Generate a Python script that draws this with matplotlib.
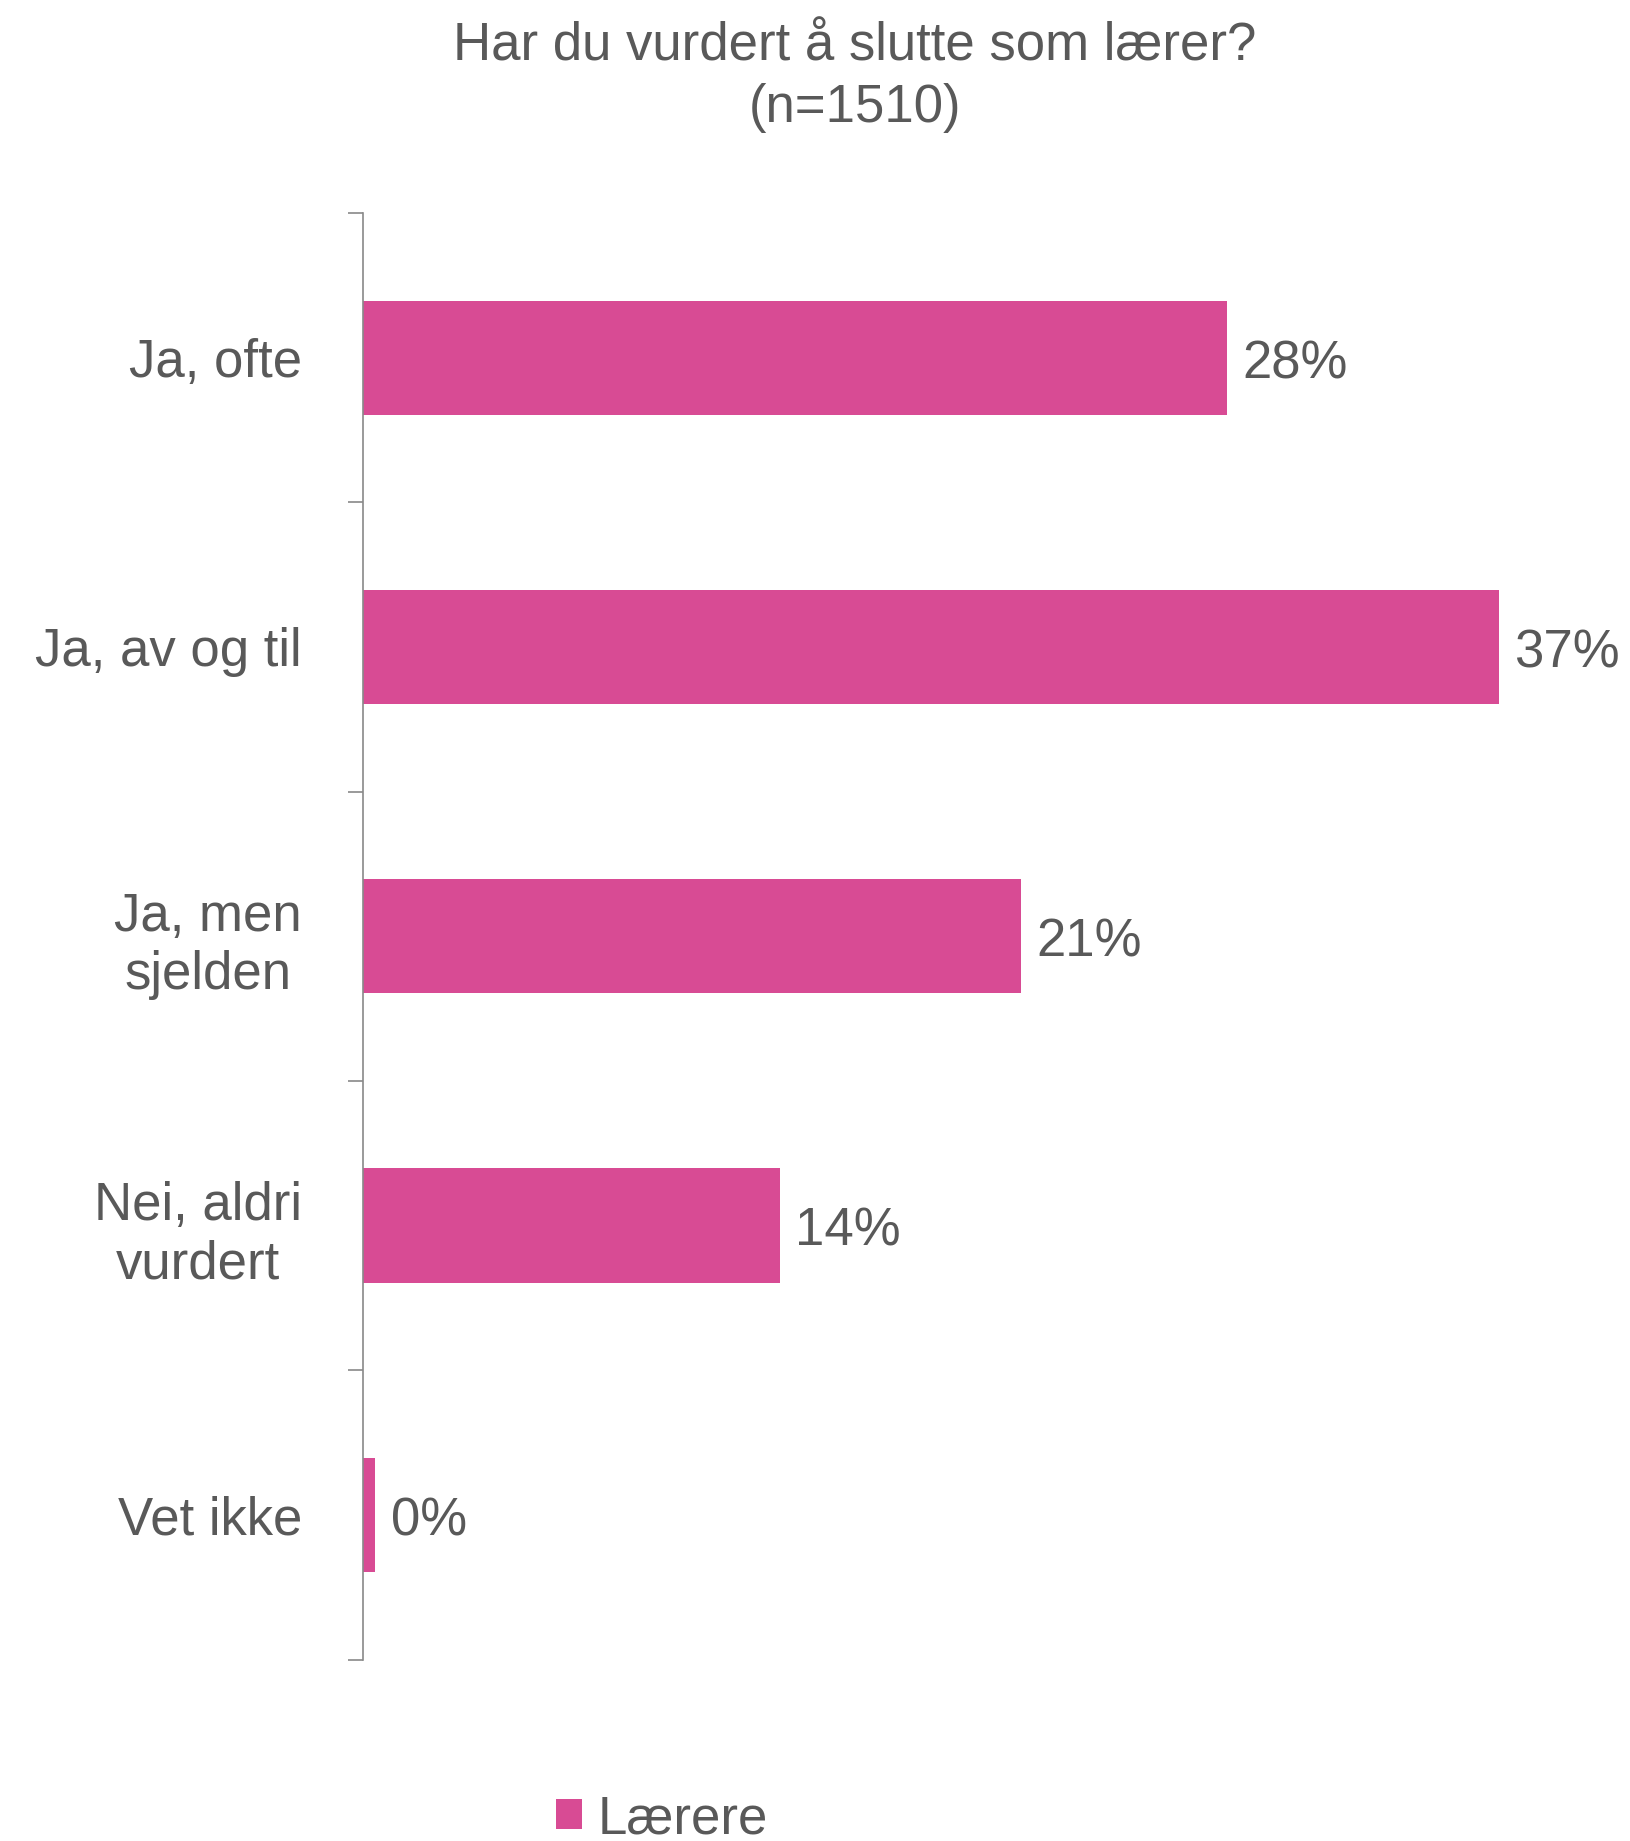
import matplotlib
matplotlib.use("Agg")
import matplotlib.pyplot as plt
from matplotlib.patches import Patch

categories = ["Ja, ofte", "Ja, av og til", "Ja, men\nsjelden", "Nei, aldri\nvurdert", "Vet ikke"]
values = [28.0, 36.8, 21.3, 13.5, 0.4]
series_name = "Lærere"
title = "Har du vurdert å slutte som lærer?\n(n=1510)"

BAR = "#D84B94"
TXT = "#595959"
AX = "#898989"
FS = 38

plt.rcParams["font.family"] = ["Liberation Sans", "DejaVu Sans"]

W, H = 1630, 1841
fig = plt.figure(figsize=(W / 100, H / 100), dpi=100)
x0, x1 = 363, 1629
y0, y1 = 213, 1659.5
ax = fig.add_axes([x0 / W, 1 - y1 / H, (x1 - x0) / W, (y1 - y0) / H])

pos = list(range(len(categories)))
ax.barh(pos, values, height=0.395, color=BAR)
ax.set_ylim(len(categories) - 0.5, -0.5)
ax.set_xlim(0, (x1 - x0) / 30.87)

for p, v in zip(pos, values):
    ax.text(v + 0.5, p + 0.022, f"{v:.0f}%", va="center", ha="left", fontsize=FS, color=TXT)

ax.set_yticks(pos)
ax.set_yticklabels(categories, fontsize=FS, color=TXT, linespacing=1.22, multialignment="center")
ax.tick_params(axis="y", which="major", length=0, pad=44)
ax.set_yticks([p - 0.5 for p in pos] + [len(categories) - 0.5], minor=True)
ax.tick_params(axis="y", which="minor", length=11, color=AX, width=1.2, direction="out")
ax.set_xticks([])
for s in ["top", "right", "bottom"]:
    ax.spines[s].set_visible(False)
ax.spines["left"].set_color(AX)
ax.spines["left"].set_linewidth(1.2)

fig.text(855 / W, 1 - 77 / H, title, ha="center", va="center", fontsize=FS, color=TXT, linespacing=1.3)

handle = Patch(facecolor=BAR, edgecolor="none")
leg = fig.legend([handle], [series_name], loc="center", bbox_to_anchor=(662 / W, 1 - 1819 / H),
                 frameon=False, fontsize=FS, handlelength=0.5, handleheight=0.5, handletextpad=0.3,
                 borderpad=0, borderaxespad=0)
for t in leg.get_texts():
    t.set_color(TXT)

fig.savefig("out.png", dpi=100, facecolor="white")
